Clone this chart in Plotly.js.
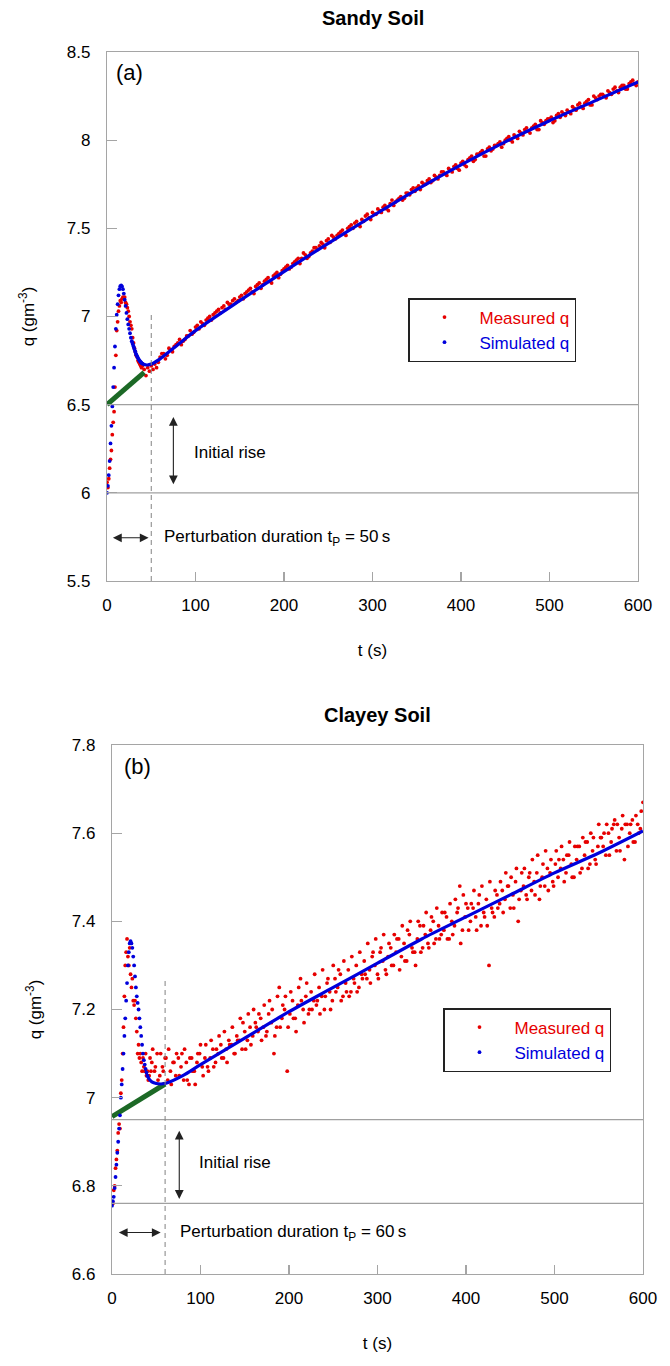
<!DOCTYPE html>
<html>
<head>
<meta charset="utf-8">
<script src="https://cdn.plot.ly/plotly-3.0.1.min.js"></script>
<style>html,body{margin:0;padding:0;background:#fff;}#chart{width:670px;height:1366px;}</style>
</head>
<body>
<div id="chart"></div>
<script>
// ---------------- Panel (a): Sandy Soil ----------------
const tMeasA = [0,1,2,3,4,5,6,7,8,9,10,11,12,13,14,15,16,17,18,19,20,21,22,23,24,25,26,27,28,29,30,31,32,33,34,35,36,37,38,39,40,
42,44,46,48,50,52,54,56,58,
60,64,68,72,76,80,84,88,92,96,100,104,108,112,116,120,124,128,132,136,140,144,148,152,156,160,164,168,172,176,
180,184,188,192,196,200,204,208,212,216,220,224,228,232,236,240,244,248,252,256,260,264,268,272,276,280,284,288,292,296,
300,304,308,312,316,320,324,328,332,336,340,344,348,352,356,360,364,368,372,376,380,384,388,392,396,400,404,408,412,416,
420,424,428,432,436,440,444,448,452,456,460,464,468,472,476,480,484,488,492,496,500,504,508,512,516,520,524,528,532,536,
540,544,548,552,556,560,564,568,572,576,580,584,588,592,596,600];
const qMeasA = [6.06,6.03,6.08,6.14,6.19,6.24,6.33,6.40,6.46,6.60,6.78,6.92,6.97,7.03,7.06,7.09,7.08,7.10,7.11,7.10,7.11,7.08,7.07,7.05,7.03,7.00,6.97,6.95,6.93,6.88,6.85,6.82,6.80,6.78,6.77,6.75,6.74,6.73,6.72,6.71,6.72,
6.70,6.665,6.71,6.69,6.72,6.70,6.73,6.71,6.74,
6.77,6.79,6.78,6.81,6.83, 6.85,6.84,6.87,6.89,6.90, 6.94,6.93,6.96,6.98,7.00, 7.01,7.03,7.02,7.06,7.08, 7.07,7.10,7.09,7.12,7.13, 7.15,7.14,7.17,7.19,7.18,
7.21,7.20,7.23,7.25,7.24, 7.27,7.29,7.28,7.31,7.33, 7.33,7.35,7.34,7.37,7.39, 7.40,7.41,7.43,7.42,7.45, 7.46,7.48,7.47,7.50,7.52, 7.53,7.52,7.55,7.57,7.56,
7.59,7.58,7.60,7.62,7.61, 7.64,7.63,7.66,7.68,7.67, 7.70,7.72,7.71,7.74,7.76, 7.75,7.78,7.77,7.79,7.80, 7.82,7.80,7.83,7.85,7.84, 7.87,7.86,7.89,7.91,7.89,
7.92,7.94,7.91,7.96,7.95, 7.97,7.99,7.98,8.01,8.00, 8.03,8.01,8.04,8.06,8.05, 8.07,8.09,8.06,8.10,8.11, 8.12,8.10,8.14,8.13,8.15, 8.17,8.15,8.18,8.20,8.19,
8.21,8.23,8.20,8.24,8.25, 8.26,8.24,8.27,8.29,8.28, 8.30,8.31,8.29,8.33,8.32, 8.33];
// second interleaved sampling of measured q (panel a)
const tMeasA2 = [62,66,70,74,78,82,86,90,94,98,102,106,110,114,118,122,126,130,134,138,142,146,150,154,158,162,166,170,174,178,
182,186,190,194,198,202,206,210,214,218,222,226,230,234,238,242,246,250,254,258,262,266,270,274,278,282,286,290,294,298,
302,306,310,314,318,322,326,330,334,338,342,346,350,354,358,362,366,370,374,378,382,386,390,394,398,402,406,410,414,418,
422,426,430,434,438,442,446,450,454,458,462,466,470,474,478,482,486,490,494,498,502,506,510,514,518,522,526,530,534,538,
542,546,550,554,558,562,566,570,574,578,582,586,590,594,598];
const qMeasA2 = [6.79,6.76,6.82,6.80,6.84, 6.87,6.86,6.89,6.92,6.91, 6.95,6.97,6.95,6.99,6.98, 7.02,7.04,7.05,7.04,7.07, 7.09,7.08,7.11,7.10,7.14, 7.16,7.13,7.18,7.16,7.20,
7.22,7.19,7.24,7.22,7.26, 7.28,7.27,7.30,7.32,7.30, 7.36,7.33,7.36,7.39,7.38, 7.42,7.39,7.44,7.46,7.44, 7.47,7.49,7.46,7.51,7.50, 7.54,7.51,7.54,7.58,7.55,
7.58,7.61,7.59,7.63,7.60, 7.66,7.65,7.67,7.66,7.70, 7.69,7.73,7.73,7.72,7.75, 7.77,7.76,7.80,7.78,7.82, 7.81,7.84,7.82,7.86,7.83, 7.88,7.85,7.90,7.88,7.92,
7.93,7.91,7.95,7.94,7.97, 7.98,7.96,8.00,8.02,7.99, 8.02,8.05,8.03,8.07,8.04, 8.08,8.06,8.11,8.09,8.12, 8.13,8.11,8.15,8.16,8.14, 8.16,8.19,8.17,8.21,8.18,
8.22,8.20,8.25,8.23,8.26, 8.25,8.28,8.26,8.30,8.27, 8.31,8.29,8.32,8.34,8.31];

const tSimDotsA = [0,1,2,3,4,5,6,7,8,9,10,11,12,13,14,15,16,17,18,19,20,21,22,23,24,25,26,27,28,29,30,31,32,33,34,35,36,37,38,39,40];
const qSimDotsA = [6.00,6.04,6.10,6.18,6.28,6.38,6.49,6.60,6.71,6.83,6.93,7.01,7.07,7.12,7.155,7.172,7.176,7.17,7.155,7.13,7.095,7.06,7.02,6.985,6.955,6.93,6.905,6.88,6.86,6.845,6.83,6.815,6.80,6.785,6.775,6.765,6.755,6.748,6.742,6.737,6.733];
const tSimLineA = [28,30,33,36,40,45,50,60,80,100,150,200,250,300,350,400,450,500,550,600];
const qSimLineA = [6.86,6.83,6.785,6.755,6.733,6.725,6.73,6.76,6.84,6.92,7.09,7.255,7.415,7.57,7.72,7.86,7.99,8.11,8.22,8.33];
const tRiseA = [0,42];
const qRiseA = [6.50,6.683];

// ---------------- Panel (b): Clayey Soil ----------------
const tMeasB = [0,1,2,3,4,5,6,7,8,9,10,11,12,13,14,15,16,17,18,19,20,21,22,23,24,25,26,27,28,29,30,31,32,33,34,35,36,37,38,39,40,41,42,43,44,
45,48,51,54,57,60,63,66,69,72, 75,78,81,84,87,90,93,96,99,102, 105,108,111,114,117,120,123,126,129,132, 135,138,141,144,147,150,153,156,159,162,
165,168,171,174,177,180,183,186,189,192, 195,198,201,204,207,210,213,216,219,222, 225,228,231,234,237,240,243,246,249,252, 255,258,261,264,267,270,273,276,279,282,
285,288,291,294,297,300,303,306,309,312, 315,318,321,324,327,330,333,336,339,342, 345,348,351,354,357,360,363,366,369,372, 375,378,381,384,387,390,393,396,399,402,
405,408,411,414,417,420,423,426,429,432, 435,438,441,444,447,450,453,456,459,462, 465,468,471,474,477,480,483,486,489,492, 495,498,501,504,507,510,513,516,519,522,
525,528,531,534,537,540,543,546,549,552, 555,558,561,564,567,570,573,576,579,582, 585,588,591,594,597,600];
const qMeasB = [6.76,6.76,6.79,6.80,6.84,6.86,6.88,6.92,6.94,6.93,7.01,7.04,7.10,7.16,7.23,7.30,7.33,7.36,7.32,7.30,7.34,7.28,7.25,7.27,7.22,7.21,7.22,7.18,7.15,7.10,7.12,7.09,7.10,7.08,7.06,7.09,7.07,7.06,7.10,7.05,7.06,7.04,7.05,7.09,7.06,
7.08,7.06,7.10,7.05,7.07,7.09,7.04,7.06,7.08,7.05, 7.09,7.07,7.04,7.08,7.03,7.09,7.06,7.08,7.10,7.07, 7.09,7.07,7.09,7.11,7.08,7.10,7.12,7.09,7.11,7.13, 7.12,7.10,7.14,7.13,7.11,7.15,7.13,7.16,7.14,7.17,
7.15,7.18,7.16,7.14,7.19,7.17,7.10,7.16,7.25,7.18, 7.20,7.06,7.19,7.22,7.18,7.21,7.27,7.20,7.23,7.19, 7.24,7.22,7.21,7.25,7.23,7.20,7.26,7.24,7.22,7.27, 7.25,7.28,7.23,7.26,7.29,7.24,7.27,7.30,7.25,7.28,
7.31,7.27,7.29,7.32,7.30,7.28,7.33,7.31,7.29,7.32, 7.34,7.30,7.33,7.36,7.32,7.35,7.31,7.37,7.34,7.33, 7.36,7.39,7.34,7.37,7.35,7.38,7.40,7.36,7.39,7.37, 7.38,7.41,7.36,7.40,7.39,7.42,7.48,7.38,7.41,7.43,
7.40,7.43,7.41,7.44,7.39,7.42,7.45,7.30,7.43,7.41, 7.46,7.44,7.47,7.45,7.48,7.43,7.46,7.49,7.40,7.47, 7.48,7.46,7.50,7.47,7.49,7.51,7.45,7.50,7.48,7.52, 7.51,7.49,7.53,7.50,7.52,7.54,7.51,7.55,7.53,7.50,
7.54,7.57,7.52,7.55,7.58,7.53,7.56,7.54,7.57,7.59, 7.57,7.55,7.60,7.58,7.62,7.56,7.59,7.61,7.54,7.62, 7.60,7.63,7.58,7.62,7.61,7.67];
// second interleaved sampling of measured q (panel b)
const tMeasB2 = [46,49,52,55,58,61,64,67,70,73, 76,79,82,85,88,91,94,97,100,103, 106,109,112,115,118,121,124,127,130,133, 136,139,142,145,148,151,154,157,160,163,
166,169,172,175,178,181,184,187,190,193, 196,199,202,205,208,211,214,217,220,223, 226,229,232,235,238,241,244,247,250,253, 256,259,262,265,268,271,274,277,280,283,
286,289,292,295,298,301,304,307,310,313, 316,319,322,325,328,331,334,337,340,343, 346,349,352,355,358,361,364,367,370,373, 376,379,382,385,388,391,394,397,400,403,
406,409,412,415,418,421,424,427,430,433, 436,439,442,445,448,451,454,457,460,463, 466,469,472,475,478,481,484,487,490,493, 496,499,502,505,508,511,514,517,520,523,
526,529,532,535,538,541,544,547,550,553, 556,559,562,565,568,571,574,577,580,583, 586,589,592,595,598];
const qMeasB2 = [7.11,7.07,7.04,7.10,7.06,7.09,7.11,7.03,7.08,7.10, 7.05,7.10,7.11,7.04,7.09,7.06,7.03,7.10,7.12,7.05, 7.12,7.06,7.13,7.07,7.11,7.14,7.09,7.15,7.08,7.12, 7.16,7.10,7.13,7.18,7.17,7.11,7.19,7.12,7.20,7.16,
7.19,7.13,7.21,7.15,7.22,7.20,7.14,7.23,7.16,7.21, 7.23,7.16,7.24,7.18,7.15,7.25,7.22,7.17,7.26,7.20, 7.20,7.28,7.22,7.19,7.29,7.23,7.27,7.20,7.30,7.24, 7.29,7.22,7.31,7.24,7.23,7.32,7.26,7.24,7.33,7.27,
7.28,7.35,7.26,7.33,7.36,7.27,7.34,7.37,7.28,7.35, 7.30,7.37,7.36,7.29,7.39,7.31,7.38,7.40,7.33,7.30, 7.40,7.33,7.39,7.42,7.34,7.41,7.35,7.43,7.36,7.42, 7.42,7.36,7.44,7.37,7.45,7.43,7.35,7.46,7.44,7.38,
7.44,7.47,7.38,7.46,7.48,7.41,7.39,7.49,7.42,7.47, 7.43,7.49,7.42,7.51,7.48,7.50,7.43,7.52,7.45,7.51, 7.52,7.45,7.51,7.54,7.46,7.55,7.48,7.53,7.56,7.47, 7.54,7.48,7.56,7.54,7.57,7.49,7.55,7.58,7.50,7.57,
7.57,7.51,7.59,7.58,7.52,7.60,7.59,7.53,7.62,7.59, 7.60,7.62,7.55,7.61,7.63,7.62,7.56,7.64,7.62,7.57, 7.62,7.58,7.64,7.60,7.65];

const tSimDotsB = [0,1,2,3,4,5,6,7,8,9,10,11,12,13,14,15,16,17,18,19,20,21,22,23,24,25,26,27,28,29,30,31,32,33,34,35,36,37,38,39,40];
const qSimDotsB = [6.755,6.765,6.775,6.795,6.82,6.848,6.875,6.90,6.93,6.96,7.00,7.03,7.065,7.10,7.14,7.18,7.22,7.26,7.30,7.33,7.35,7.355,7.35,7.34,7.32,7.30,7.275,7.25,7.23,7.215,7.20,7.18,7.16,7.14,7.12,7.10,7.085,7.075,7.065,7.057,7.05];
const tSimLineB = [40,42,45,50,55,60,80,100,150,200,250,300,350,400,450,500,550,600];
const qSimLineB = [7.05,7.042,7.036,7.032,7.031,7.032,7.05,7.075,7.135,7.195,7.25,7.305,7.36,7.41,7.46,7.51,7.555,7.605];
const tRiseB = [0,60];
const qRiseB = [6.957,7.031];

// labels
const panelTitles = ['Sandy Soil', 'Clayey Soil'];
const panelTags = ['(a)', '(b)'];
const perturbLabels = ['Perturbation duration t<sub>P</sub> = 50\u2009s', 'Perturbation duration t<sub>P</sub> = 60\u2009s'];
const tP = [50, 60];

const RED = 'rgb(230,0,0)', BLUE = 'rgb(0,0,220)', GREEN = 'rgb(28,105,38)';
const FONT = 'Liberation Sans, Arial, sans-serif';
const nameMeas = '<span style="color:' + RED + '">Measured q</span>';
const nameSim = '<span style="color:' + BLUE + '">Simulated q</span>';

function panelTraces(xa, ya, lg, tm, qm, tsd, qsd, tsl, qsl, tr, qr) {
  return [
    {x: tm, y: qm, xaxis: xa, yaxis: ya, type: 'scatter', mode: 'markers', name: nameMeas, legend: lg,
     marker: {color: RED, size: 3.8}},
    {x: tr, y: qr, xaxis: xa, yaxis: ya, type: 'scatter', mode: 'lines', showlegend: false,
     line: {color: GREEN, width: 5}},
    {x: tsd, y: qsd, xaxis: xa, yaxis: ya, type: 'scatter', mode: 'markers', name: nameSim, legend: lg,
     marker: {color: BLUE, size: 3.8}},
    {x: tsl, y: qsl, xaxis: xa, yaxis: ya, type: 'scatter', mode: 'lines', showlegend: false,
     line: {color: BLUE, width: 3.2, shape: 'spline', smoothing: 0.8}}
  ];
}

const data = [].concat(
  panelTraces('x', 'y', 'legend', tMeasA.concat(tMeasA2), qMeasA.concat(qMeasA2),
              tSimDotsA, qSimDotsA, tSimLineA, qSimLineA, tRiseA, qRiseA),
  panelTraces('x2', 'y2', 'legend2', tMeasB.concat(tMeasB2), qMeasB.concat(qMeasB2),
              tSimDotsB, qSimDotsB, tSimLineB, qSimLineB, tRiseB, qRiseB)
);

const W = 670, H = 1366;
function xdom(l, r) { return [l / W, r / W]; }
function ydom(top, bot) { return [(H - bot) / H, (H - top) / H]; }

const axisCommon = {
  showgrid: false, zeroline: false, showline: true, mirror: true,
  linecolor: 'rgb(165,165,165)', linewidth: 1.2,
  ticks: 'inside', tickcolor: 'rgb(165,165,165)', tickwidth: 1.2,
  tickfont: {family: FONT, size: 17, color: '#000'},
  automargin: false
};

function xAxis(dom, anchor) {
  return Object.assign({}, axisCommon, {
    domain: dom, anchor: anchor, range: [0, 600], tick0: 0, dtick: 100, ticklen: 9,
    ticklabelstandoff: 8,
    title: {text: 't (s)', font: {family: FONT, size: 17, color: '#000'}, standoff: 30}
  });
}
function yAxis(dom, anchor, rng, dt, so) {
  return Object.assign({}, axisCommon, {
    domain: dom, anchor: anchor, range: rng, tick0: rng[0], dtick: dt, ticklen: 10,
    ticklabelstandoff: 12,
    title: {text: 'q (gm<sup>-3</sup>)', font: {family: FONT, size: 17, color: '#000'}, standoff: so}
  });
}

function hline(xr, yr, y) {
  return {type: 'line', xref: xr, yref: yr, x0: 0, x1: 600, y0: y, y1: y,
          line: {color: 'rgb(160,160,160)', width: 1.2}};
}
function vdash(xr, yr, x, y0, y1) {
  return {type: 'line', xref: xr, yref: yr, x0: x, x1: x, y0: y0, y1: y1,
          line: {color: 'rgb(130,130,130)', width: 1, dash: '5px,4px'}};
}
function dblArrow(xr, yr, x0, y0, x1, y1) {
  return {xref: xr, yref: yr, axref: xr, ayref: yr, x: x1, y: y1, ax: x0, ay: y0,
          text: '', showarrow: true, arrowside: 'end+start', arrowhead: 2, arrowsize: 1.6,
          arrowwidth: 1.1, arrowcolor: '#222', standoff: 0, startstandoff: 0};
}
function label(xr, yr, x, y, txt, size) {
  return {xref: xr, yref: yr, x: x, y: y, text: txt, showarrow: false, xanchor: 'left', yanchor: 'middle',
          font: {family: FONT, size: size || 17, color: '#000'}};
}

const legendCommon = {xanchor: 'left', yanchor: 'top', bgcolor: '#fff', bordercolor: '#222', borderwidth: 1.5,
                      font: {family: FONT, size: 17}, itemwidth: 60, tracegroupgap: 0};

const layout = {
  width: W, height: H,
  margin: {l: 0, r: 0, t: 0, b: 0},
  paper_bgcolor: '#fff', plot_bgcolor: '#fff',
  font: {family: FONT, size: 17, color: '#000'},
  xaxis: xAxis(xdom(107, 638), 'y'),
  yaxis: yAxis(ydom(52, 581), 'x', [5.5, 8.5], 0.5, 27),
  xaxis2: xAxis(xdom(112, 643), 'y2'),
  yaxis2: yAxis(ydom(745, 1274), 'x2', [6.6, 7.8], 0.2, 25),
  legend: Object.assign({x: 408 / W, y: (H - 298) / H}, legendCommon),
  legend2: Object.assign({x: 443 / W, y: (H - 1008) / H}, legendCommon),
  shapes: [
    hline('x', 'y', 6.5), hline('x', 'y', 6.0), vdash('x', 'y', tP[0], 5.5, 7.02),
    hline('x2', 'y2', 6.95), hline('x2', 'y2', 6.76), vdash('x2', 'y2', tP[1], 6.6, 7.27)
  ],
  annotations: [
    {xref: 'paper', yref: 'paper', x: 372.5 / W, y: (H - 18) / H, text: '<b>' + panelTitles[0] + '</b>',
     showarrow: false, xanchor: 'center', yanchor: 'middle', font: {family: FONT, size: 20, color: '#000'}},
    {xref: 'paper', yref: 'paper', x: 377.5 / W, y: (H - 715) / H, text: '<b>' + panelTitles[1] + '</b>',
     showarrow: false, xanchor: 'center', yanchor: 'middle', font: {family: FONT, size: 20, color: '#000'}},
    {xref: 'x domain', yref: 'y domain', x: 0.014, y: 0.962, text: panelTags[0], showarrow: false,
     xanchor: 'left', yanchor: 'middle', font: {family: FONT, size: 22, color: '#000'}},
    {xref: 'x2 domain', yref: 'y2 domain', x: 0.018, y: 0.96, text: panelTags[1], showarrow: false,
     xanchor: 'left', yanchor: 'middle', font: {family: FONT, size: 22, color: '#000'}},
    dblArrow('x', 'y', 75, 6.04, 75, 6.43),
    label('x', 'y', 96, 6.23, 'Initial rise'),
    dblArrow('x', 'y', 5, 5.745, 47, 5.745),
    label('x', 'y', 62, 5.745, perturbLabels[0]),
    dblArrow('x2', 'y2', 76, 6.767, 76, 6.925),
    label('x2', 'y2', 96, 6.853, 'Initial rise'),
    dblArrow('x2', 'y2', 6, 6.694, 55, 6.694),
    label('x2', 'y2', 75, 6.694, perturbLabels[1])
  ]
};

Plotly.newPlot('chart', data, layout, {displayModeBar: false, staticPlot: true});
</script>
</body>
</html>
